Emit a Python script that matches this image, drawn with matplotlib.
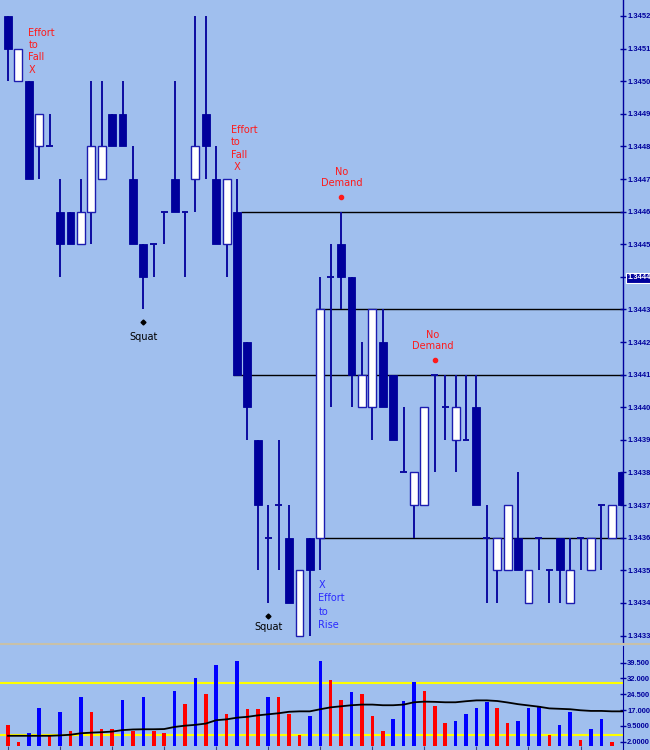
import numpy as np
import matplotlib
matplotlib.use("Agg")
import matplotlib.pyplot as plt
from matplotlib.patches import Rectangle

# ---- price bars ----
opens = [1.3452, 1.3450, 1.3450, 1.3448, 1.3448, 1.3446, 1.3446, 1.3445, 1.3446, 1.3447,
         1.3449, 1.3449, 1.3447, 1.3445, 1.3445, 1.3446, 1.3447, 1.3446, 1.3447, 1.3449,
         1.3447, 1.3445, 1.3446, 1.3442, 1.3439, 1.3436, 1.3437, 1.3436, 1.3433, 1.3436,
         1.3436, 1.3444, 1.3445, 1.3444, 1.3440, 1.3440, 1.3442, 1.3441, 1.3438, 1.3437,
         1.3437, 1.3441, 1.3440, 1.3439, 1.3439, 1.3440, 1.3436, 1.3435, 1.3435, 1.3436,
         1.3434, 1.3436, 1.3435, 1.3436, 1.3434, 1.3436, 1.3435, 1.3437, 1.3436, 1.3438]
highs = [1.3452, 1.3451, 1.3450, 1.3449, 1.3449, 1.3447, 1.3446, 1.3447, 1.3450, 1.3450,
         1.3449, 1.3450, 1.3448, 1.3445, 1.3445, 1.3446, 1.3450, 1.3446, 1.3452, 1.3452,
         1.3448, 1.3447, 1.3447, 1.3442, 1.3439, 1.3437, 1.3439, 1.3437, 1.3435, 1.3436,
         1.3444, 1.3445, 1.3446, 1.3444, 1.3442, 1.3443, 1.3443, 1.3441, 1.3440, 1.3438,
         1.3440, 1.3441, 1.3441, 1.3441, 1.3441, 1.3441, 1.3437, 1.3436, 1.3437, 1.3438,
         1.3435, 1.3436, 1.3435, 1.3436, 1.3436, 1.3436, 1.3436, 1.3437, 1.3437, 1.3438]
lows = [1.3450, 1.3450, 1.3447, 1.3447, 1.3448, 1.3444, 1.3445, 1.3445, 1.3445, 1.3447,
        1.3448, 1.3448, 1.3445, 1.3443, 1.3444, 1.3445, 1.3446, 1.3444, 1.3446, 1.3447,
        1.3445, 1.3444, 1.3441, 1.3439, 1.3435, 1.3434, 1.3435, 1.3434, 1.3433, 1.3433,
        1.3435, 1.3440, 1.3443, 1.3440, 1.3440, 1.3439, 1.3440, 1.3439, 1.3438, 1.3436,
        1.3437, 1.3438, 1.3439, 1.3438, 1.3439, 1.3437, 1.3434, 1.3434, 1.3435, 1.3435,
        1.3434, 1.3435, 1.3434, 1.3434, 1.3434, 1.3435, 1.3435, 1.3435, 1.3436, 1.3437]
closes = [1.3451, 1.3451, 1.3447, 1.3449, 1.3448, 1.3445, 1.3445, 1.3446, 1.3448, 1.3448,
          1.3448, 1.3448, 1.3445, 1.3444, 1.3445, 1.3446, 1.3446, 1.3446, 1.3448, 1.3448,
          1.3445, 1.3447, 1.3441, 1.3440, 1.3437, 1.3436, 1.3437, 1.3434, 1.3435, 1.3435,
          1.3443, 1.3444, 1.3444, 1.3441, 1.3441, 1.3443, 1.3440, 1.3439, 1.3438, 1.3438,
          1.3440, 1.3441, 1.3440, 1.3440, 1.3439, 1.3437, 1.3436, 1.3436, 1.3437, 1.3435,
          1.3435, 1.3436, 1.3435, 1.3435, 1.3435, 1.3436, 1.3436, 1.3437, 1.3437, 1.3437]

# ---- volume ----
volume = [10, 2, 6, 18, 5, 16, 7, 23, 16, 8, 8, 22, 7, 23, 7, 6, 26, 20, 32, 24.5,
          38.5, 15, 40.5, 17.5, 17.5, 23, 23, 15, 5, 14, 40.5, 31.5, 22, 25.5, 24.5, 14, 7, 13, 21.5, 30.5,
          26, 19, 11, 12, 15, 18, 21, 18, 11, 12, 18, 19, 5, 10, 16, 3, 8, 13, 2]
vol_side = list("rrbbrbrbrrrbrbrrbrbrbrbrrbrrrbbrrbrrrbbbrrrbbbbrrbbbrbbrbbr")
vol_avg = [4.8, 4.8, 4.8, 4.8, 4.8, 5.0, 5.3, 6.0, 6.3, 6.5, 6.8, 7.5, 7.8, 7.9, 7.9, 8.0,
           9.0, 9.6, 10.0, 10.6, 12.2, 12.6, 13.4, 13.8, 14.5, 15.0, 15.5, 16.2, 16.4, 16.4,
           17.4, 18.3, 18.8, 19.3, 19.6, 19.6, 19.3, 19.3, 19.6, 20.7, 21.0, 20.9, 20.7, 20.7,
           21.2, 21.6, 21.6, 21.3, 20.6, 19.8, 19.2, 18.6, 17.8, 17.6, 17.4, 16.9, 16.6, 16.6, 16.4, 16.4]
vol_bands = [30, 5]

price_ticks = [1.3452 - 0.0001 * k for k in range(20)]
vol_ticks = [2.0, 9.5, 17.0, 24.5, 32.0, 39.5]
vol_tick_labels = ["2.0000", "9.5000", "17.000", "24.500", "32.000", "39.500"]

# support / resistance levels: (price, first bar)
levels = [(1.3446, 22.4), (1.3443, 29.6), (1.3441, 21.6), (1.3436, 30.0)]

BG = "#a0bfee"
NAVY = "#00009c"
WICK = "#0c0ca0"

fig = plt.figure(figsize=(6.5, 7.5), dpi=100, facecolor=BG)
W, H = 650.0, 750.0
axis_x = 623.0
ax = fig.add_axes([0, (H - 643) / H, axis_x / W, 643 / H], facecolor=BG)
axv = fig.add_axes([0, 0, axis_x / W, 104 / H], facecolor=BG)

n = len(opens)
idx = np.arange(n)
bw = 0.76

for i in range(n):
    o, h, l, c = opens[i], highs[i], lows[i], closes[i]
    ax.vlines(i, l, h, color=WICK, lw=1.4, zorder=2)
    if abs(o - c) < 1e-8:
        ax.hlines(o, i - 0.33, i + 0.33, color=WICK, lw=1.4, zorder=3)
    elif c < o:
        ax.add_patch(Rectangle((i - bw / 2, c), bw, o - c, facecolor=NAVY,
                               edgecolor=NAVY, lw=0.6, zorder=3))
    else:
        ax.add_patch(Rectangle((i - bw / 2, o), bw, c - o, facecolor="white",
                               edgecolor="#1c1cb0", lw=1.0, zorder=3))

for p, start in levels:
    ax.hlines(p, start, n + 2, color="black", lw=1.0, zorder=1)

ax.set_xlim(-0.77, 59.08)
ax.set_ylim(1.343277, 1.345249)

# annotations
def note(bar, price, dx, dy, txt, color, ha="left", ls=1.3):
    ax.annotate(txt, (bar, price), xytext=(dx, dy), textcoords="offset pixels",
                ha=ha, va="top", color=color, fontsize=7, family="DejaVu Sans",
                linespacing=ls, zorder=5)

RED = "#ff1a1a"
note(1, highs[1], 10, 21, "Effort\nto\nFall\nX", RED)
note(21, highs[21], 4, 54, "Effort\nto\nFall\n X", RED)
note(32, highs[32], 1, 45, "No\nDemand", RED, ha="center", ls=1.2)
note(41, highs[41], -2, 45, "No\nDemand", RED, ha="center", ls=1.2)
for bar in [32, 41]:
    ax.plot([bar], [highs[bar] + 15 / 326000], "o", color=RED, ms=3, zorder=5)
for bar in [13, 25]:
    ax.plot([bar], [lows[bar] - 13 / 326000], "D", color="black", ms=2.5, zorder=5)
note(13, lows[13], 0, -23, "Squat", "black", ha="center")
note(25, lows[25], 0, -19, "Squat", "black", ha="center")
note(30, lows[30], -2, -10, "X\nEffort\nto\nRise", "#2a2aff", ls=1.4)

# price axis
for s in ["top", "left", "bottom"]:
    ax.spines[s].set_visible(False)
ax.spines["right"].set_color(NAVY)
ax.spines["right"].set_linewidth(1.0)
ax.set_xticks([])
ax.yaxis.tick_right()
ax.set_yticks(price_ticks, ["%.4f" % t for t in price_ticks])
ax.tick_params(axis="y", direction="inout", length=5, width=1, color=NAVY,
               labelcolor=NAVY, labelsize=5.4, pad=0.5)
for lbl in ax.get_yticklabels():
    lbl.set_fontweight("bold")
    lbl.set_family("Liberation Sans")
    if lbl.get_text() == "1.3444":
        lbl.set_color("white")
        lbl.set_bbox(dict(facecolor=NAVY, edgecolor="white", pad=1.2, lw=0.8))

# volume panel
colors = ["#0000ff" if s == "b" else "#ff0000" for s in vol_side]
axv.bar(idx[:len(volume)], volume, width=0.34, color=colors, zorder=2)
for b in vol_bands:
    axv.axhline(b, color="#ffff00", lw=1.5, zorder=1)
axv.plot(idx[:len(vol_avg)], vol_avg, color="black", lw=1.3, zorder=3)
axv.set_xlim(-0.77, 59.08)
axv.set_ylim(-1.94, 47.4)
for s in ["top", "left", "bottom"]:
    axv.spines[s].set_visible(False)
axv.spines["right"].set_color(NAVY)
axv.yaxis.tick_right()
axv.set_yticks(vol_ticks, vol_tick_labels)
axv.tick_params(axis="y", direction="inout", length=5, width=1, color=NAVY,
                labelcolor=NAVY, labelsize=5.4, pad=0.5)
for lbl in axv.get_yticklabels():
    lbl.set_fontweight("bold")
    lbl.set_family("Liberation Sans")
axv.set_xticks(range(0, 60, 5))
axv.tick_params(axis="x", direction="in", length=3, color="#404080", labelbottom=False)

# panel separator
fig.add_artist(plt.Line2D([0, 1], [(H - 644) / H] * 2, color="#c8c0a8", lw=1.5))

fig.savefig("out.png", dpi=100, facecolor=BG)
